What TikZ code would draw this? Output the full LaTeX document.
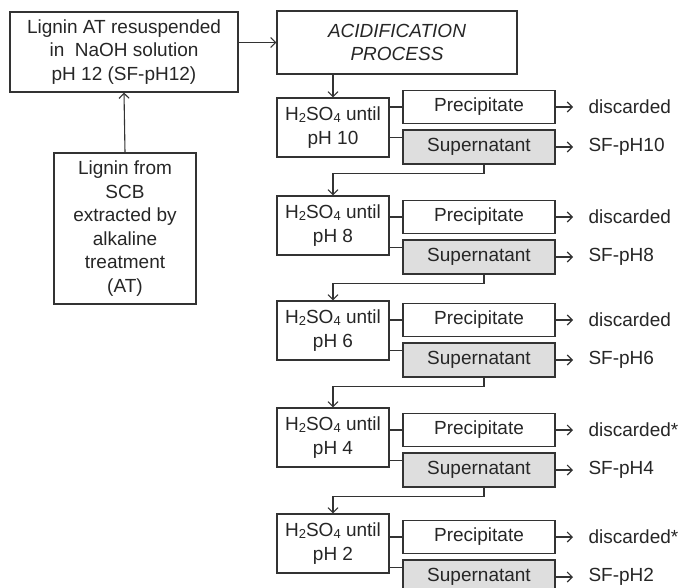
\documentclass[tikz,border=0pt]{standalone}
\usepackage{fontspec}
\setmainfont{Liberation Sans}
\usetikzlibrary{arrows.meta}
\newcommand{\lowdigit}[1]{\raisebox{-1.5pt}{\fontsize{13}{13}\selectfont #1}}

\begin{document}
\begin{tikzpicture}[x=1pt,y=-1pt,
    line width=1.1pt, draw=black!80, text=black!85,
    >={Straight Barb[length=5pt,width=10pt]},
    font=\fontsize{19}{23.5}\selectfont,
    box/.style={draw=black!80, align=center, inner sep=0pt},
    stagebox/.style={box, minimum width=112pt, minimum height=59pt},
    precbox/.style={box, minimum width=152pt, minimum height=33pt},
    supbox/.style={box, fill=black!13, minimum width=152pt, minimum height=34pt},
    outtext/.style={anchor=west, inner sep=2pt}]
        \useasboundingbox (0,0) rectangle (679,587);
        % Starting material
        \node[box, minimum width=228pt, minimum height=80pt] (res) at (124,52)
            {Lignin AT resuspended\\in~ NaOH solution\\pH 12 (SF-pH12)};
        \node[box, minimum width=142pt, minimum height=151pt] (scb) at (125,228.5)
            {Lignin from\\SCB\\extracted by\\alkaline\\treatment\\(AT)};
        \node[box, minimum width=240pt, minimum height=63pt] (acid) at (397,42.5)
            {\itshape ACIDIFICATION\\\itshape PROCESS};
        \draw[->] (scb.north) -- (res.south);
        \draw[->] (acid.west -| res.east) -- (acid.west);
        % Acidification steps
        \foreach \t/\p/\ph/\dis in {98/90/10/discarded, 196/200/8/discarded,
                301/303/6/discarded, 408/413/4/discarded*, 514/520/2/discarded*} {
            \node[stagebox] (st\ph) at (333,\t+29.5) {H\lowdigit{2}SO\lowdigit{4} until\\pH \ph};
            \node[precbox] (pr\ph) at (479,\p+17) {Precipitate};
            \node[supbox] (su\ph) at (479,\p+57) {Supernatant};
            \node[outtext] (dis\ph) at (586,\p+17) {\dis};
            \node[outtext] (sf\ph) at (586,\p+57) {SF-pH\ph};
            \draw (pr\ph.west) -- (pr\ph.west -| st\ph.east);
            \draw ([yshift=-8pt]su\ph.north west) -- ([yshift=-8pt]su\ph.north west -| st\ph.east);
            \draw[->] (pr\ph.east) -- ([xshift=-13pt]dis\ph.west);
            \draw[->] (su\ph.east) -- ([xshift=-13pt]sf\ph.west);
        }
        % Links between steps
        \draw[->] (st10.north |- acid.south) -- (st10.north);
        \foreach \a/\b in {10/8, 8/6, 6/4, 4/2}
            \draw[->] ([xshift=5pt]su\a.south) -- ++(0,9) -| (st\b.north);
\end{tikzpicture}
\end{document}
